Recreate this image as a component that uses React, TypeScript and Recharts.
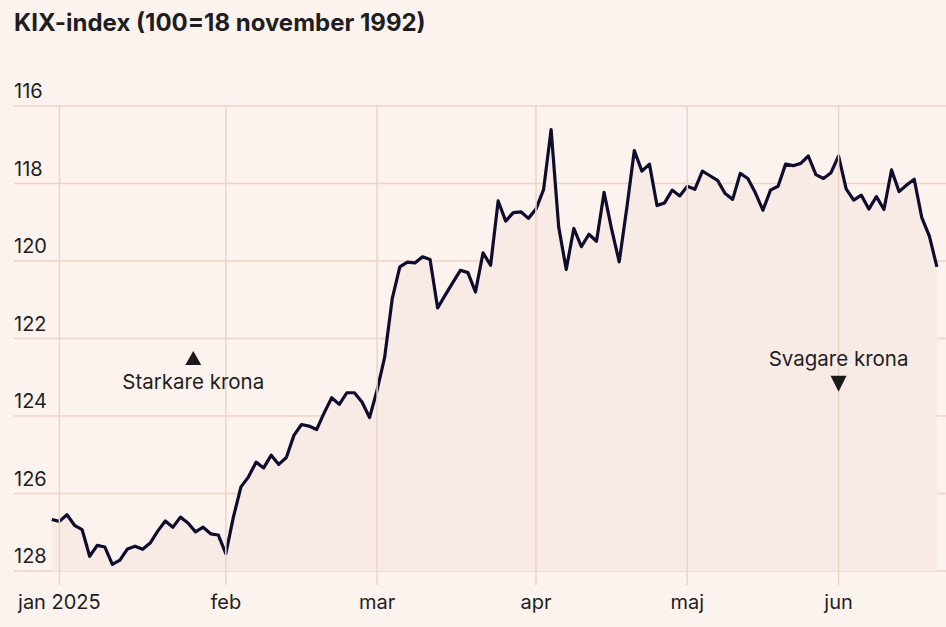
import React from 'react';
import { ComposedChart, Area, XAxis, YAxis, CartesianGrid, ReferenceDot, ReferenceLine } from 'recharts';

// KIX closing values, one per trading day (30 dec 2024 -> mid june 2025)
const kixValues = [
    126.67, 126.72, 126.55, 126.82, 126.93, 127.62, 127.34, 127.38, 127.83, 127.72,
    127.43, 127.36, 127.44, 127.28, 126.97, 126.71, 126.87, 126.61, 126.76, 126.99,
    126.87, 127.04, 127.07, 127.55, 126.61, 125.83, 125.57, 125.19, 125.34, 125.01,
    125.25, 125.07, 124.50, 124.22, 124.26, 124.35, 123.92, 123.53, 123.70, 123.40,
    123.40, 123.64, 124.04, 123.33, 122.48, 120.97, 120.15, 120.03, 120.05, 119.89,
    119.96, 121.21, 120.88, 120.56, 120.24, 120.30, 120.80, 119.79, 120.11, 118.45,
    118.97, 118.75, 118.73, 118.90, 118.66, 118.16, 116.61, 119.12, 120.22, 119.16,
    119.63, 119.31, 119.49, 118.23, 119.18, 120.02, 118.64, 117.15, 117.68, 117.50,
    118.57, 118.50, 118.17, 118.32, 118.07, 118.15, 117.68, 117.80, 117.92, 118.26,
    118.41, 117.74, 117.87, 118.24, 118.69, 118.17, 118.07, 117.50, 117.54, 117.48,
    117.29, 117.77, 117.87, 117.72, 117.29, 118.14, 118.43, 118.30, 118.66, 118.34,
    118.67, 117.65, 118.21, 118.04, 117.89, 118.88, 119.36, 120.15,
];

// first trading day of each month (index into kixValues)
const monthTicks = [1, 23, 43, 64, 84, 104];
const monthLabels = ['jan 2025', 'feb', 'mar', 'apr', 'maj', 'jun'];

const yTicks = [116, 118, 120, 122, 124, 126, 128];

const chartData = kixValues.map((v, i) => ({ i, v }));

const FONT = 'Inter, "Noto Sans", sans-serif';
const BG = '#fcf3ef';
const GRID = '#f0d2c4';
const LINE = '#0f0c2e';
const TEXT = '#1e1e22';

const YTick = ({ y, payload }: any) => (
    <text x={14} y={y - 8} fill={TEXT} fontSize={20} fontFamily={FONT} textAnchor="start">
        {payload.value}
    </text>
);

const XTick = ({ x, payload }: any) => {
    const idx = monthTicks.indexOf(payload.value);
    return (
        <text x={x} y={609} fill={TEXT} fontSize={20} fontFamily={FONT} textAnchor="middle">
            {monthLabels[idx]}
        </text>
    );
};

const UpNote = ({ cx, cy }: any) => (
    <g>
        <path d={`M${cx - 8},${cy + 7} L${cx + 8},${cy + 7} L${cx},${cy - 7} Z`} fill="#1a1a1a" />
        <text x={cx} y={cy + 31} fill={TEXT} fontSize={20.5} fontFamily={FONT} textAnchor="middle">
            Starkare krona
        </text>
    </g>
);

const DownNote = ({ cx, cy }: any) => (
    <g>
        <path d={`M${cx - 8},${cy - 8} L${cx + 8},${cy - 8} L${cx},${cy + 8} Z`} fill="#1a1a1a" />
        <text x={cx} y={cy - 18} fill={TEXT} fontSize={20.5} fontFamily={FONT} textAnchor="middle">
            Svagare krona
        </text>
    </g>
);

export default function App() {
    return (
        <div style={{ position: 'absolute', left: 0, top: 0, width: 946, height: 627, background: BG, fontFamily: FONT }}>
            <div
                style={{
                    position: 'absolute',
                    left: 14,
                    top: 11,
                    fontSize: 24,
                    lineHeight: '24px',
                    fontWeight: 700,
                    color: TEXT,
                    whiteSpace: 'nowrap',
                }}
            >
                KIX-index (100=18 november 1992)
            </div>
            <ComposedChart
                width={946}
                height={627}
                data={chartData}
                margin={{ top: 106, right: 0, bottom: 0, left: 13 }}
            >
                <CartesianGrid stroke={GRID} strokeWidth={1.5} vertical={false} />
                {monthTicks.map((t) => (
                    <ReferenceLine key={t} x={t} stroke={GRID} strokeWidth={1.5} />
                ))}
                <XAxis
                    dataKey="i"
                    type="number"
                    domain={[-5, 118.2]}
                    ticks={monthTicks}
                    interval={0}
                    height={56}
                    axisLine={false}
                    tickLine={{ stroke: GRID, strokeWidth: 1.5 }}
                    tickSize={14}
                    tick={<XTick />}
                />
                <YAxis
                    type="number"
                    domain={[116, 128]}
                    reversed
                    ticks={yTicks}
                    interval={0}
                    width={1}
                    axisLine={false}
                    tickLine={false}
                    tick={<YTick />}
                />
                <Area
                    type="linear"
                    dataKey="v"
                    baseValue={128}
                    fill="#f8ebe6"
                    fillOpacity={1}
                    stroke={LINE}
                    strokeWidth={3.2}
                    strokeLinejoin="round"
                    dot={false}
                    activeDot={false}
                    isAnimationActive={false}
                />
                <ReferenceDot x={18.7} y={122.5} r={0} shape={<UpNote />} />
                <ReferenceDot x={104} y={123.17} r={0} shape={<DownNote />} />
            </ComposedChart>
        </div>
    );
}
